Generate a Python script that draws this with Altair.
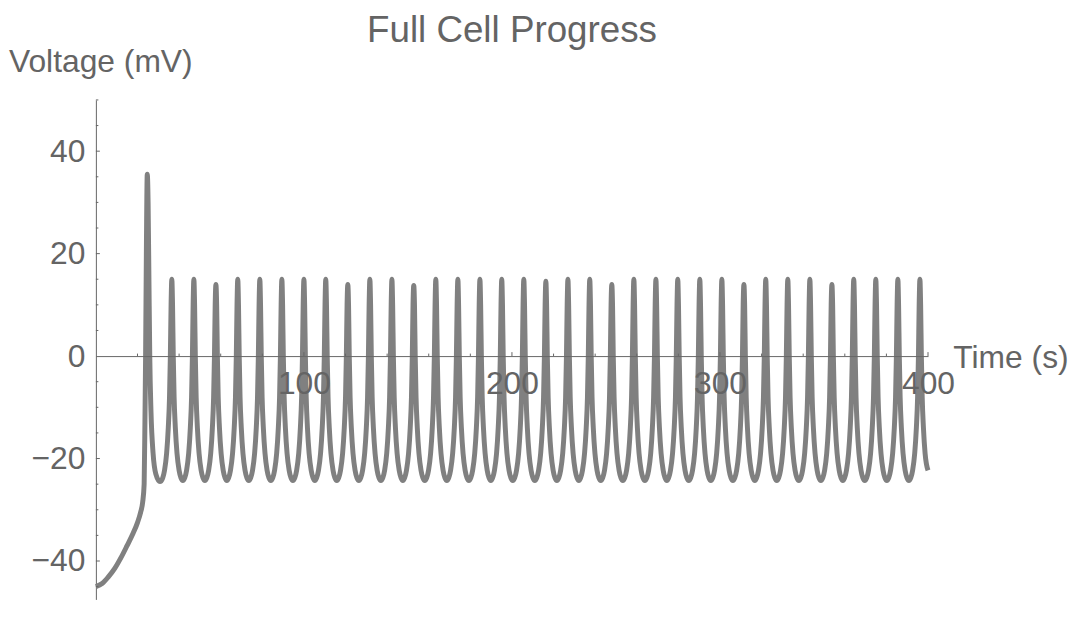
import altair as alt
import pandas as pd

# ---- data ----
TITLE = "Full Cell Progress"

# initial rise and first (large) spike: time (s), voltage (mV)
START_T = [0, 3, 6, 9, 12, 15, 18, 20, 21.5, 22.5, 23.2, 23.6, 23.9, 24.3, 24.7,
           25.1, 25.5, 25.9, 26.5, 27.5, 28.8, 30.8]
START_V = [-45, -44.4, -43.1, -41.5, -39.4, -37, -34.5, -32.5, -30.5, -28.5, -25,
           -12, 0, 22, 35.5, 30, 15, 0, -11, -19, -23, -24.5]

# times and heights of the 35 regular peaks
PEAK_T = [36.5, 47.1, 57.7, 68.2, 78.8, 89.4, 100.0, 110.5, 121.1, 131.7, 142.3,
          152.8, 163.4, 174.0, 184.6, 195.1, 205.7, 216.3, 226.9, 237.4, 248.0,
          258.6, 269.2, 279.7, 290.3, 300.9, 311.5, 322.0, 332.6, 343.2, 353.8,
          364.3, 374.9, 385.5, 396.1]
PEAK_V = [15, 15, 14, 15, 15, 15, 15, 15, 14, 15, 15,
          13.8, 15, 15, 15, 15, 15, 14.6, 15, 15, 14,
          15, 15, 15, 15, 15, 14, 15, 15, 15, 14,
          15, 15, 15, 15]
TROUGH_V = -24.3

# shape of one flank of a regular peak (seconds away from the peak, mV)
FLANK_DT = [0.35, 0.7, 1.1, 1.7, 2.5, 3.5, 4.4]
FLANK_V = [10, 0, -8, -14, -19, -22.3, -23.8]

END_T = 400
END_V = -22.3

# axis ticks
X_LABELS = [100, 200, 300, 400]
X_MINOR = [20, 40, 60, 80, 120, 140, 160, 180, 220, 240, 260, 280, 320, 340, 360, 380]
Y_LABELS = [-40, -20, 0, 20, 40]
Y_MAJOR = [-40, -20, 20, 40]
Y_MINOR = [-45, -35, -30, -25, -15, -10, -5, 5, 10, 15, 25, 30, 35, 45, 50]

# ---- build the table ----
rows = list(zip(START_T, START_V))
n = len(PEAK_T)
for k in range(n):
    p = PEAK_T[k]
    for dt, v in reversed(list(zip(FLANK_DT, FLANK_V))):
        rows.append((p - dt, v))
    rows.append((p, PEAK_V[k]))
    if k < n - 1:
        for dt, v in zip(FLANK_DT, FLANK_V):
            rows.append((p + dt, v))
        rows.append(((p + PEAK_T[k + 1]) / 2, TROUGH_V))
    else:
        for dt, v in zip(FLANK_DT, FLANK_V):
            if p + dt < END_T - 1:
                rows.append((p + dt, v))
rows.append((END_T, END_V))
df = pd.DataFrame(rows, columns=["t", "v"])

# ---- layout ----
FONT = "Liberation Sans"
TXT = "#646464"
AX = "#666666"
W, H = 838, 503
Y_DOM = [-47.5, 50]
zero_y = H * (Y_DOM[1] - 0) / (Y_DOM[1] - Y_DOM[0])

xs = alt.Scale(domain=[0, 400], nice=False, zero=False)
ys = alt.Scale(domain=Y_DOM, nice=False, zero=False)

x_axis = alt.Axis(
    orient="bottom", offset=-(H - zero_y), values=X_LABELS, ticks=False,
    grid=False, domainColor=AX, domainWidth=1, labelFont=FONT, labelFontSize=32,
    labelColor=TXT, labelPadding=13, labelFlush=False, labelOverlap=False,
    title="Time (s)", titleFont=FONT, titleFontSize=32, titleFontWeight="normal",
    titleColor=TXT, titleAlign="left", titleBaseline="alphabetic",
    titleX=W + 25, titleY=11, titleAngle=0, zindex=1,
)
y_axis = alt.Axis(
    orient="left", values=Y_LABELS, ticks=False, grid=False, domainColor=AX,
    domainWidth=1, labelFont=FONT, labelFontSize=32, labelColor=TXT,
    labelPadding=11, labelFlush=False, labelOverlap=False,
    title="Voltage (mV)", titleFont=FONT, titleFontSize=32,
    titleFontWeight="normal", titleColor=TXT, titleAngle=0, titleAlign="left",
    titleBaseline="alphabetic", titleX=-88, titleY=-29,
)

line = alt.Chart(df).mark_line(
    color="#808080", strokeWidth=5, interpolate="monotone"
).encode(
    x=alt.X("t:Q", scale=xs, axis=x_axis),
    y=alt.Y("v:Q", scale=ys, axis=y_axis),
)

ymaj = alt.Chart(pd.DataFrame({"v": Y_MAJOR})).mark_rule(color=AX, strokeWidth=1).encode(
    y=alt.Y("v:Q"), x=alt.value(0), x2=alt.value(4))
ymin = alt.Chart(pd.DataFrame({"v": Y_MINOR})).mark_rule(color=AX, strokeWidth=1).encode(
    y=alt.Y("v:Q"), x=alt.value(0), x2=alt.value(2.5))
xmaj = alt.Chart(pd.DataFrame({"t": X_LABELS})).mark_rule(color=AX, strokeWidth=1).encode(
    x=alt.X("t:Q"), y=alt.value(zero_y), y2=alt.value(zero_y - 4))
xmin = alt.Chart(pd.DataFrame({"t": X_MINOR})).mark_rule(color=AX, strokeWidth=1).encode(
    x=alt.X("t:Q"), y=alt.value(zero_y), y2=alt.value(zero_y - 2.5))

title = alt.Chart(pd.DataFrame({"title": [TITLE]})).mark_text(
    font=FONT, fontSize=37, color=TXT, align="center", baseline="alphabetic"
).encode(text="title:N", x=alt.value(W / 2), y=alt.value(-58))

chart = alt.layer(line, ymaj, ymin, xmaj, xmin, title).properties(
    width=W, height=H,
    autosize=alt.AutoSizeParams(type="none"),
    padding={"left": 88.5, "top": 90.5, "right": 145, "bottom": 0},
).configure(background="white").configure_view(stroke="transparent", strokeWidth=0)

chart.save("out.html", embed_options={"renderer": "svg", "actions": False})
